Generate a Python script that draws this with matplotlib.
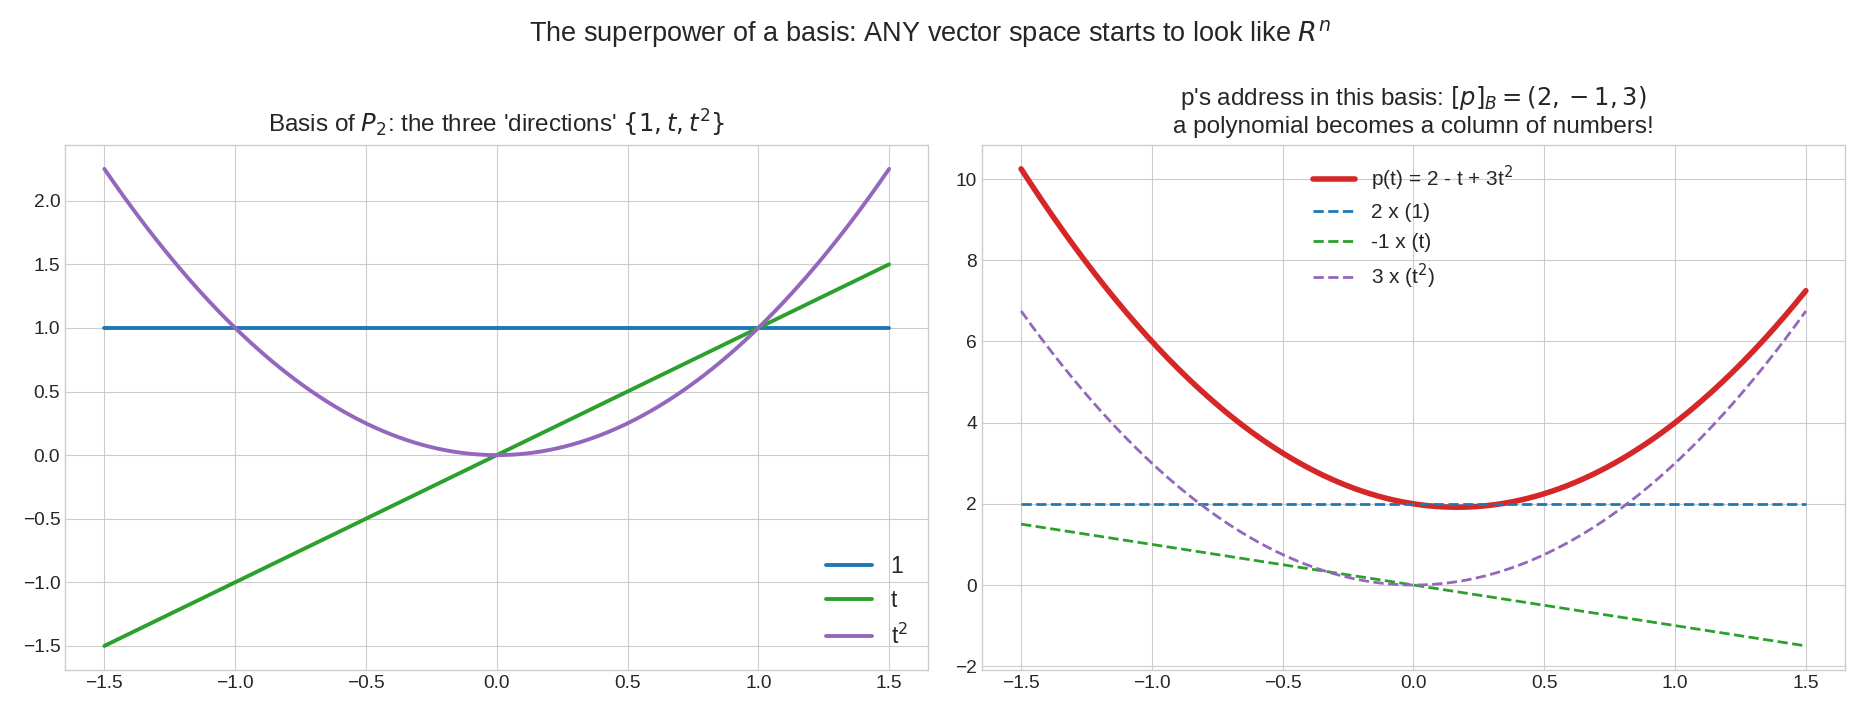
import numpy as np
import matplotlib.pyplot as plt

plt.style.use('seaborn-v0_8-whitegrid')
plt.rcParams['font.family'] = ['Liberation Sans', 'DejaVu Sans']

# domain of t and the coordinates of p in the basis {1, t, t^2}
t_min, t_max = -1.5, 1.5
coords = [2, -1, 3]
basis_labels = ['1', 't', 't$^2$']
basis_colors = ['#1f77b4', '#2ca02c', '#9467bd']
term_labels = ['2 x (1)', '-1 x (t)', '3 x (t$^2$)']

t = np.linspace(t_min, t_max, 300)
basis = [np.ones_like(t), t, t ** 2]

fig, (ax1, ax2) = plt.subplots(1, 2, figsize=(18.6, 7.11), dpi=100)

for b, lab, c in zip(basis, basis_labels, basis_colors):
    ax1.plot(t, b, color=c, lw=2.8, label=lab)
ax1.set_title("Basis of $P_2$: the three 'directions' $\\{1, t, t^2\\}$", fontsize=17.5, pad=9)
ax1.legend(loc='lower right', fontsize=16.5)
ax1.tick_params(labelsize=13.8)

p = sum(a * b for a, b in zip(coords, basis))
ax2.plot(t, p, color='#d62728', lw=4, label='p(t) = 2 - t + 3t$^2$')
for a, b, lab, c in zip(coords, basis, term_labels, basis_colors):
    ax2.plot(t, a * b, '--', color=c, lw=2, label=lab)
ax2.set_title("p's address in this basis: $[p]_B = (2, -1, 3)$\na polynomial becomes a column of numbers!",
              fontsize=17.5, pad=9)
ax2.legend(loc='upper center', fontsize=15)
ax2.tick_params(labelsize=13.8)

fig.suptitle('The superpower of a basis: ANY vector space starts to look like $R^n$', fontsize=19.5, y=0.975)
plt.subplots_adjust(left=0.035, right=0.992, bottom=0.058, top=0.796, wspace=0.062)
plt.savefig('out.png')
